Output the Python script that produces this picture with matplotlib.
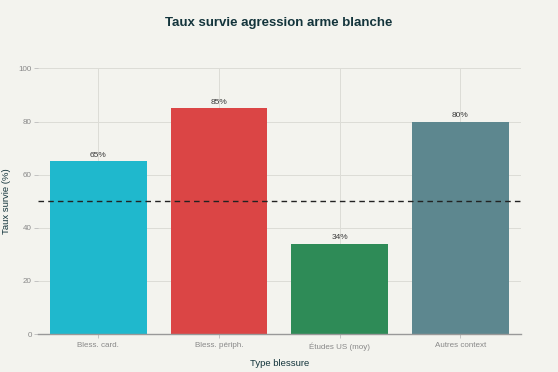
import matplotlib
matplotlib.use("Agg")
import matplotlib.pyplot as plt

categories = ["Bless. card.", "Bless. périph.", "Études US (moy)", "Autres context"]
values = [65, 85, 34, 80]
colors = ["#1FB8CD", "#DB4545", "#2E8B57", "#5D878F"]
labels = ["65%", "85%", "34%", "80%"]
ref_line = 50

plt.rcParams['font.family'] = ['Liberation Sans', 'DejaVu Sans']
bg = "#F3F3EE"
fig = plt.figure(figsize=(5.58, 3.72), dpi=100, facecolor=bg)
ax = fig.add_axes([0.068, 0.102, 0.865, 0.714])
ax.set_facecolor(bg)

x = list(range(len(categories)))
bars = ax.bar(x, values, width=0.8, color=colors, zorder=2)
for xi, v, lab in zip(x, values, labels):
    ax.text(xi, v + 1, lab, ha="center", va="bottom", fontsize=6, color="#3A3A3A", zorder=3)

ax.axhline(ref_line, color="#222222", linestyle=(0, (4, 3)), linewidth=1, zorder=3)

ax.set_xlim(-0.5, 3.5)
ax.set_ylim(0, 100)
ax.set_xticks(x)
ax.set_xticklabels(categories)
ax.set_yticks([0, 20, 40, 60, 80, 100])
ax.grid(True, color="#DCDCD6", linewidth=0.7, zorder=0)
ax.set_axisbelow(True)
for s in ["top", "right", "left"]:
    ax.spines[s].set_visible(False)
ax.spines["bottom"].set_color("#999999")
ax.spines["bottom"].set_linewidth(1)
ax.tick_params(axis="both", labelsize=5.8, labelcolor="#888888", color="#BBBBBB", length=3, width=0.6)
ax.tick_params(axis="x", pad=3)
ax.tick_params(axis="y", pad=1.5)

ax.set_xlabel("Type blessure", fontsize=6.8, color="#13343B", labelpad=6)
ax.set_ylabel("Taux survie (%)", fontsize=6.8, color="#13343B", labelpad=5)
fig.text(0.5, 0.937, "Taux survie agression arme blanche", ha="center", va="center",
         fontsize=9.5, fontweight="bold", color="#13343B")

fig.savefig("out.png", dpi=100, facecolor=bg)
